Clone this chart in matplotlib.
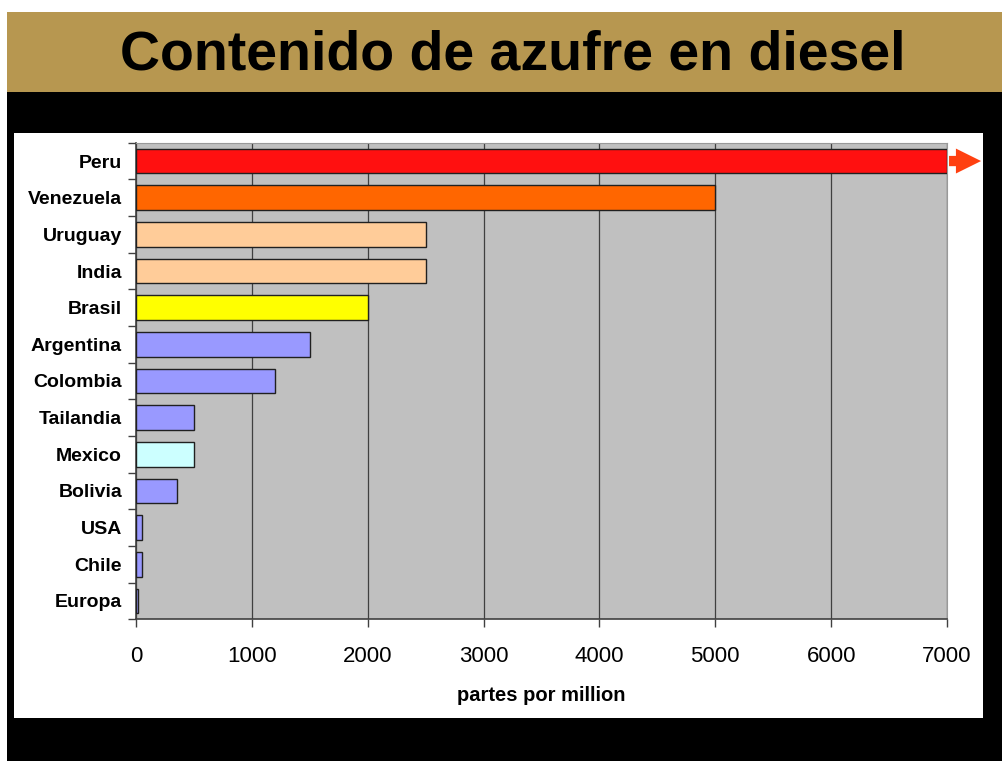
import matplotlib
matplotlib.use("Agg")
import matplotlib.pyplot as plt
from matplotlib.patches import Rectangle, Polygon

plt.rcParams['font.family'] = ['Liberation Sans', 'DejaVu Sans']

# datos: contenido de azufre (ppm)
paises = ["Peru", "Venezuela", "Uruguay", "India", "Brasil", "Argentina", "Colombia",
          "Tailandia", "Mexico", "Bolivia", "USA", "Chile", "Europa"]
ppm = [7000, 5000, 2500, 2500, 2000, 1500, 1200, 500, 500, 350, 50, 50, 15]
colores = ["#FF1010", "#FF6600", "#FFCC99", "#FFCC99", "#FFFF00", "#9999FF", "#9999FF",
           "#9999FF", "#CCFFFF", "#9999FF", "#9999FF", "#9999FF", "#9999FF"]
xticks = [0, 1000, 2000, 3000, 4000, 5000, 6000, 7000]

W, H = 1002, 761
fig = plt.figure(figsize=(W / 100, H / 100), dpi=100)
fig.patch.set_facecolor("white")


def caja(x0, y0, x1, y1, color):
    # rectangulo en pixeles (origen arriba a la izquierda)
    fig.patches.append(Rectangle((x0 / W, 1 - y1 / H), (x1 - x0) / W, (y1 - y0) / H,
                                 transform=fig.transFigure, facecolor=color,
                                 edgecolor="none", zorder=-5))


caja(7, 12, W, 92, "#B79750")
caja(7, 92, W, H, "black")
caja(14, 133, 983, 718, "white")

fig.text(513 / W, 1 - 55 / H, "Contenido de azufre en diesel", ha="center", va="center",
         fontsize=40, fontweight="bold", color="black")

ax = fig.add_axes([136 / W, 1 - 619.3 / H, 811 / W, 476.6 / H])
ax.set_zorder(2)
ax.set_facecolor("#C0C0C0")
pos = list(range(len(paises)))
ax.barh(pos, ppm, height=0.68, color=colores, edgecolor="#202020", linewidth=1, zorder=3)

ax.set_xlim(0, 7000)
ax.set_ylim(len(paises) - 0.5, -0.5)
ax.set_xticks(xticks)
ax.set_xticklabels([str(v) for v in xticks], fontsize=16)
ax.tick_params(axis="x", direction="out", length=6, width=1, color="#404040", pad=13)
ax.set_yticks(pos)
ax.set_yticklabels(paises, fontsize=14, fontweight="bold")
ax.tick_params(axis="y", which="major", length=0, pad=10)
ax.set_yticks([p - 0.5 for p in pos] + [len(paises) - 0.5], minor=True)
ax.tick_params(axis="y", which="minor", direction="out", length=6, width=1, color="#404040")

ax.xaxis.grid(True, color="#404040", linewidth=0.9, zorder=1)
ax.set_axisbelow(True)
for lado in ["top", "right"]:
    ax.spines[lado].set_color("#999999")
for lado in ["left", "bottom"]:
    ax.spines[lado].set_color("#404040")
    ax.spines[lado].set_linewidth(1.2)

ax.set_xlabel("partes por million", fontsize=14.5, fontweight="bold", labelpad=14)

# flecha: Peru sale de la escala
tr = ax.get_yaxis_transform()
y0 = paises.index("Peru")
flecha = [(1.0025, y0 - 0.14), (1.0110, y0 - 0.14), (1.0110, y0 - 0.34), (1.0420, y0),
          (1.0110, y0 + 0.34), (1.0110, y0 + 0.14), (1.0025, y0 + 0.14)]
ax.add_patch(Polygon(flecha, closed=True, transform=tr, facecolor="#FF4010",
                     edgecolor="none", clip_on=False, zorder=5))

fig.savefig("out.png", dpi=100)
